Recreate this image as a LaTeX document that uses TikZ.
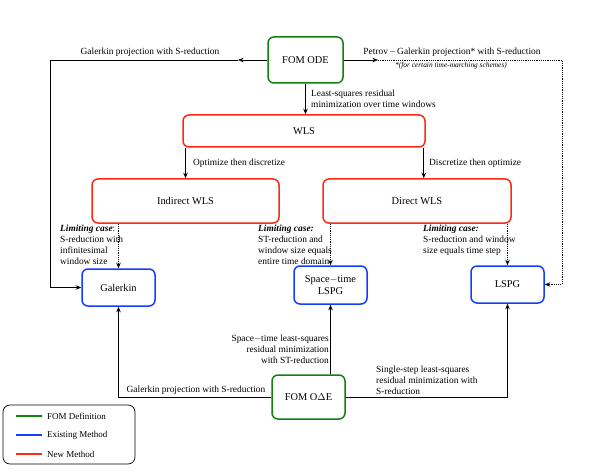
\documentclass[tikz,border=0pt]{standalone}
\usepackage{fontspec}
\setmainfont{Liberation Serif}
\usetikzlibrary{arrows.meta}
\definecolor{fomgreen}{RGB}{16,128,16}
\definecolor{exblue}{RGB}{20,60,255}
\definecolor{newred}{RGB}{255,40,20}
\begin{document}
\begin{tikzpicture}[x=1pt,y=-1pt,
  box/.style={draw,rounded corners=6pt,line width=1.5pt,inner sep=0pt,align=center,font=\fontsize{10.4}{12}\selectfont},
  fombox/.style={box,draw=fomgreen},
  exbox/.style={box,draw=exblue},
  newbox/.style={box,draw=newred},
  arr/.style={line width=0.8pt,-{Stealth[length=5.5pt,width=4.5pt]}},
  dotarr/.style={arr,dash pattern=on 1.2pt off 1pt},
  lbl/.style={inner sep=0pt,font=\fontsize{9.4}{11}\selectfont},
  legtxt/.style={inner sep=0pt,anchor=west,font=\fontsize{9}{10}\selectfont},
  legline/.style={line width=1.5pt}]
\useasboundingbox (0,0) rectangle (592,476);
% boxes
\node[fombox,minimum width=75pt,minimum height=46pt] (fomode) at (305.5,60) {FOM ODE};
\node[newbox,minimum width=242pt,minimum height=32pt] (wls) at (304,131) {WLS};
\node[newbox,minimum width=187pt,minimum height=44pt] (iwls) at (185.5,201) {Indirect WLS};
\node[newbox,minimum width=188pt,minimum height=44pt] (dwls) at (417,201) {Direct WLS};
\node[exbox,minimum width=73pt,minimum height=37pt] (gal) at (118.5,287.5) {Galerkin};
\node[exbox,minimum width=73pt,minimum height=38pt] (stlspg) at (330.5,285) {Space${-}$time\\LSPG};
\node[exbox,minimum width=73pt,minimum height=37pt] (lspg) at (507.5,284.5) {LSPG};
\node[fombox,minimum width=73pt,minimum height=44pt] (fomde) at (308.5,397) {FOM O$\Delta$E};
% top connectors
\coordinate (m1) at (238,60);
\coordinate (c1) at (50,60);
\coordinate (m2) at (378,60);
\coordinate (c2) at (562,60);
\draw[arr] (fomode.west) -- (m1);
\draw[arr] (m1) -- (c1) |- (gal.west);
\draw[arr] (fomode.east) -- (m2);
\draw[dotarr] (m2) -- (c2) |- (lspg.east);
\draw[arr] (fomode.south) -- (fomode.south |- wls.north);
\draw[arr] (iwls.north |- wls.south) -- (iwls.north);
\draw[arr] ([xshift=-2pt]wls.south east) -- ([xshift=-2pt]wls.south east |- dwls.north);
\draw[dotarr] (gal.north |- iwls.south) -- (gal.north);
\draw[dotarr] (stlspg.north |- dwls.south) -- (stlspg.north);
\draw[dotarr] (lspg.north |- dwls.south) -- (lspg.north);
% bottom connectors
\draw[arr] (stlspg.south |- fomde.north) -- (stlspg.south);
\draw[arr] (fomde.west) -| (gal.south);
\draw[arr] (fomde.east) -| (lspg.south);
% labels
\node[lbl] (l1) at (150,52) {Galerkin projection with S-reduction};
\node[lbl] (l2) at (452,52) {Petrov\kern1pt${-}$\kern1pt Galerkin projection* with S-reduction};
\node[lbl,font=\fontsize{7.4}{8}\selectfont\itshape] (l3) at (451,66) {*(for certain time-marching schemes)};
\node[lbl,anchor=west,align=left] (l4) at (311,98.5) {Least-squares residual\\minimization over time windows};
\node[lbl,anchor=west] (l5) at (193,163) {Optimize then discretize};
\node[lbl,anchor=west] (l6) at (429,163) {Discretize then optimize};
\node[lbl,anchor=west,align=left] (l7) at (60,245) {\textbf{\textit{Limiting case}}:\\S-reduction with\\infinitesimal\\window size};
\node[lbl,anchor=west,align=left] (l8) at (258,245) {\textbf{\textit{Limiting case:}}\\ST-reduction and\\window size equals\\entire time domain};
\node[lbl,anchor=west,align=left] (l9) at (423,240) {\textbf{\textit{Limiting case:}}\\S-reduction and window\\size equals time step};
\node[lbl,anchor=east,align=right] (l10) at (329,349) {Space${-}$time least-squares\\residual minimization\\with ST-reduction};
\node[lbl] (l11) at (196,390) {Galerkin projection with S-reduction};
\node[lbl,anchor=west,align=left] (l12) at (376,380) {Single-step least-squares\\residual minimization with\\S-reduction};
% legend
\node[draw,rounded corners=7pt,line width=0.7pt,minimum width=132pt,minimum height=59pt,inner sep=0pt] (legend) at (69,434.5) {};
\coordinate (g1) at (16,416); \coordinate (g2) at (42,416);
\coordinate (b1) at (16,435); \coordinate (b2) at (42,435);
\coordinate (r1) at (16,454); \coordinate (r2) at (42,454);
\draw[legline,fomgreen] (g1) -- (g2);
\draw[legline,exblue] (b1) -- (b2);
\draw[legline,newred] (r1) -- (r2);
\node[legtxt] (t1) at (47,416) {FOM Definition};
\node[legtxt] (t2) at (47,435) {Existing Method};
\node[legtxt] (t3) at (47,454) {New Method};
\end{tikzpicture}
\end{document}
